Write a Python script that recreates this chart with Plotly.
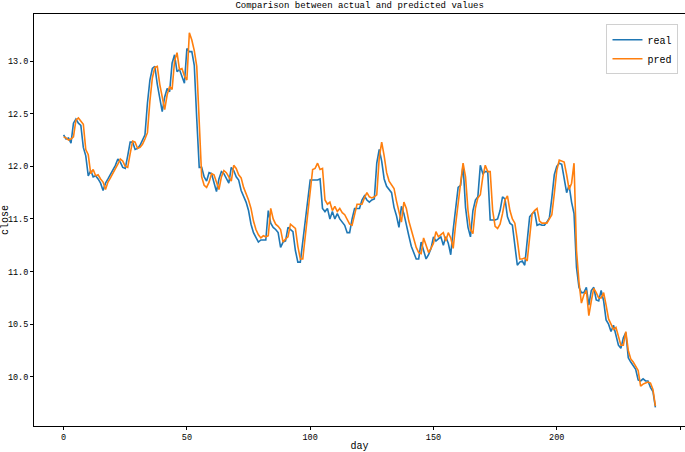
import plotly.graph_objects as go

# daily close, real vs predicted
real = [
    12.30, 12.26, 12.27, 12.22, 12.41, 12.45, 12.41, 12.39, 12.18, 12.10,
    11.91, 11.96, 11.90, 11.91, 11.88, 11.84, 11.77, 11.84, 11.88, 11.92,
    11.96, 12.01, 12.07, 12.04, 11.99, 11.98, 12.10, 12.23, 12.23, 12.16,
    12.17, 12.20, 12.25, 12.30, 12.60, 12.82, 12.93, 12.95, 12.78, 12.64,
    12.52, 12.66, 12.74, 12.71, 12.98, 13.06, 12.90, 12.92, 12.86, 12.79,
    13.12, 13.09, 13.09, 12.96, 12.45, 11.99, 11.99, 11.90, 11.86, 11.94,
    11.93, 11.83, 11.76, 11.88, 11.95, 11.93, 11.88, 11.84, 11.99, 11.96,
    11.90, 11.87, 11.77, 11.72, 11.66, 11.58, 11.45, 11.37, 11.32, 11.28,
    11.30, 11.30, 11.30, 11.58, 11.46, 11.42, 11.40, 11.37, 11.23, 11.28,
    11.29, 11.42, 11.40, 11.38, 11.20, 11.09, 11.09, 11.30, 11.48, 11.70,
    11.87, 11.87, 11.87, 11.87, 11.88, 11.60, 11.57, 11.60, 11.50, 11.57,
    11.50, 11.55, 11.50, 11.47, 11.44, 11.37, 11.37, 11.50, 11.60, 11.60,
    11.60, 11.68, 11.72, 11.68, 11.66, 11.68, 11.69, 12.03, 12.16, 12.05,
    11.88, 11.81, 11.78, 11.75, 11.61, 11.53, 11.42, 11.62, 11.55, 11.43,
    11.34, 11.24, 11.18, 11.12, 11.12, 11.28, 11.20, 11.12, 11.16, 11.22,
    11.33, 11.29, 11.31, 11.33, 11.25, 11.33, 11.27, 11.16, 11.40, 11.58,
    11.80, 11.82, 12.01, 11.61, 11.42, 11.33, 11.58, 11.68, 11.71, 12.01,
    11.93, 11.95, 11.95, 11.49, 11.49, 11.49, 11.50, 11.58, 11.71, 11.69,
    11.52, 11.46, 11.44, 11.26, 11.06, 11.09, 11.10, 11.06, 11.33, 11.52,
    11.55, 11.57, 11.44, 11.45, 11.44, 11.44, 11.47, 11.51, 11.70, 11.92,
    12.00, 12.03, 12.02, 11.88, 11.75, 11.82, 11.66, 11.55, 11.04, 10.85,
    10.80, 10.80, 10.85, 10.68, 10.82, 10.85, 10.73, 10.72, 10.82, 10.72,
    10.54, 10.50, 10.43, 10.49, 10.38, 10.30, 10.27, 10.37, 10.42, 10.18,
    10.14, 10.11, 10.07, 9.97, 9.96, 9.98, 9.96, 9.96, 9.90, 9.86,
    9.71,
]

pred = [
    12.28, 12.27, 12.25, 12.26, 12.28, 12.44, 12.46, 12.43, 12.40, 12.16,
    12.11, 11.93, 11.97, 11.91, 11.92, 11.88, 11.85, 11.78, 11.85, 11.89,
    11.93, 11.97, 12.02, 12.07, 12.05, 12.00, 11.99, 12.12, 12.24, 12.23,
    12.17, 12.18, 12.21, 12.26, 12.32, 12.62, 12.84, 12.94, 12.95, 12.78,
    12.65, 12.54, 12.68, 12.76, 12.73, 13.00, 13.08, 12.92, 12.93, 12.86,
    12.82, 13.27, 13.20, 13.10, 12.95, 12.45, 11.90, 11.82, 11.80, 11.85,
    11.93, 11.92, 11.84, 11.78, 11.90, 11.96, 11.94, 11.90, 11.86, 12.01,
    11.98, 11.92, 11.89, 11.80, 11.74, 11.68, 11.60, 11.48, 11.40, 11.35,
    11.32, 11.34, 11.33, 11.34, 11.60, 11.50, 11.45, 11.43, 11.40, 11.28,
    11.31, 11.33, 11.45, 11.43, 11.41, 11.24, 11.12, 11.12, 11.34, 11.52,
    11.75, 11.97, 11.98, 12.03, 11.97, 11.98, 11.68, 11.64, 11.66, 11.58,
    11.62, 11.57, 11.60, 11.56, 11.54, 11.50, 11.45, 11.44, 11.55, 11.64,
    11.64, 11.64, 11.70, 11.75, 11.71, 11.70, 11.71, 11.73, 12.08, 12.23,
    12.10, 11.94, 11.86, 11.83, 11.79, 11.67, 11.58, 11.47, 11.66, 11.60,
    11.48, 11.39, 11.30, 11.23, 11.18, 11.17, 11.32, 11.25, 11.18, 11.22,
    11.27, 11.38, 11.33, 11.35, 11.37, 11.29, 11.37, 11.32, 11.22, 11.45,
    11.62, 11.84, 12.03, 11.90, 11.58, 11.40, 11.36, 11.60, 11.70, 11.73,
    11.90, 12.01, 11.95, 11.95, 11.58, 11.43, 11.41, 11.45, 11.55, 11.68,
    11.72, 11.58, 11.50, 11.46, 11.30, 11.12, 11.12, 11.13, 11.10, 11.36,
    11.55, 11.58, 11.60, 11.48, 11.46, 11.46, 11.46, 11.50, 11.54, 11.74,
    11.96, 12.06, 12.05, 12.04, 11.92, 11.78, 11.84, 12.03, 11.20, 10.90,
    10.70, 10.78, 10.82, 10.58, 10.72, 10.84, 10.80, 10.75, 10.75, 10.80,
    10.68, 10.55, 10.50, 10.45, 10.47, 10.38, 10.30, 10.30, 10.43, 10.25,
    10.17, 10.14, 10.10, 10.06, 9.91, 9.93, 9.94, 9.95, 9.94, 9.88,
    9.72,
]

days = list(range(len(real)))

FONT = "Liberation Mono"

fig = go.Figure()
fig.add_trace(go.Scatter(x=days, y=real, mode="lines", name="real",
                         line=dict(color="#1f77b4", width=1.6)))
fig.add_trace(go.Scatter(x=days, y=pred, mode="lines", name="pred",
                         line=dict(color="#ff7f0e", width=1.6)))

axis_common = dict(showline=True, linecolor="black", linewidth=1, mirror=True,
                   ticks="outside", ticklen=3, tickcolor="black",
                   showgrid=False, zeroline=False,
                   tickfont=dict(family=FONT, size=8.5, color="black"))

fig.update_layout(
    width=685, height=452,
    margin=dict(l=34, r=0, t=14, b=26),
    paper_bgcolor="white", plot_bgcolor="white",
    font=dict(family=FONT, color="black"),
    title=dict(text="Comparison between actual and predicted values",
               x=0.525, xanchor="center", y=0.989, yref="container", yanchor="middle",
               font=dict(family=FONT, size=9, color="black")),
    xaxis=dict(range=[-12, 252], tickvals=[0, 50, 100, 150, 200, 250],
               title=dict(text="day", standoff=2, font=dict(family=FONT, size=10)),
               automargin=False, **axis_common),
    yaxis=dict(range=[9.532, 13.448], tickvals=[10.0, 10.5, 11.0, 11.5, 12.0, 12.5, 13.0],
               ticktext=["10.0", "10.5", "11.0", "11.5", "12.0", "12.5", "13.0"],
               title=dict(text="close", standoff=1, font=dict(family=FONT, size=10)),
               automargin=False, **axis_common),
    legend=dict(x=0.99, y=0.975, xanchor="right", yanchor="top",
                bgcolor="rgba(255,255,255,0.8)", bordercolor="#d0d0d0", borderwidth=1,
                font=dict(family=FONT, size=10), itemwidth=30, tracegroupgap=0),
    showlegend=True,
)

# drop the default 8px page margin so the figure sits at the window's corner
fig.write_html("out.html", config={"displayModeBar": False},
               post_script="document.body.style.margin='0';")
